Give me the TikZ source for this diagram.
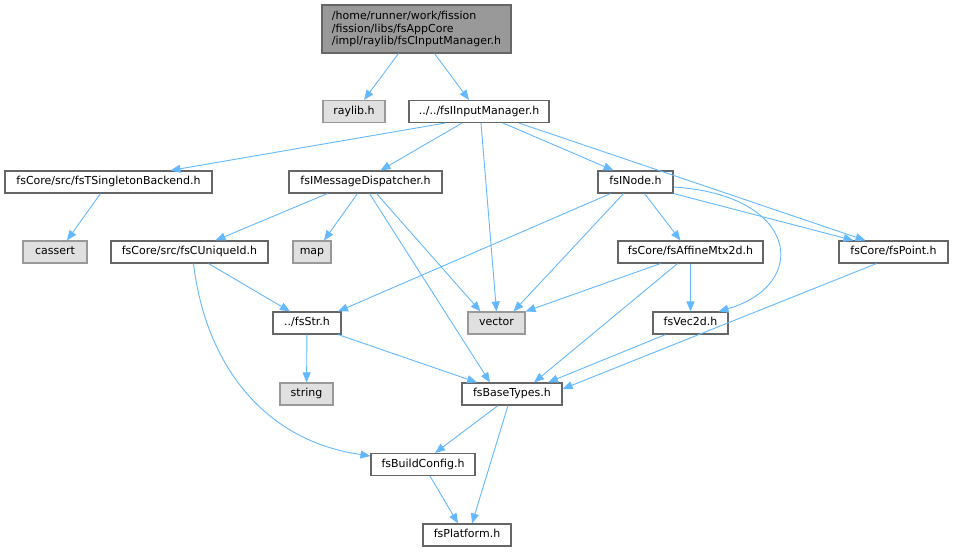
\documentclass[tikz,border=0pt]{standalone}
\usepackage{fontspec}
\setmainfont{DejaVu Sans}
\usepackage{tikz}
\usetikzlibrary{arrows.meta,calc}

\definecolor{edgeblue}{HTML}{63B8FF}
\definecolor{boxline}{HTML}{666666}
\definecolor{sysfill}{HTML}{E0E0E0}
\definecolor{sysline}{HTML}{999999}
\definecolor{rootfill}{HTML}{999999}

\tikzset{
  hdr/.style={draw=boxline, fill=white, line width=1.1pt, minimum height=22pt,
    inner sep=0pt, text height=8pt, text depth=2.5pt, font=\fontsize{11}{12.5}\selectfont},
  syshdr/.style={hdr, draw=sysline, fill=sysfill},
  rootfile/.style={hdr, fill=rootfill, minimum height=48pt, align=left,
    text height=, text depth=},
  dep/.style={draw=edgeblue, line width=0.9pt, -{Triangle[length=10pt,width=8pt]}}
}

\begin{document}
\begin{tikzpicture}[x=1pt, y=-1pt]
          \useasboundingbox (0,0) rectangle (953,552);

          \node[rootfile, minimum width=189pt] (root) at (416.5,29) {/home/runner/work/fission\\/fission/libs/fsAppCore\\/impl/raylib/fsCInputManager.h};
          \node[syshdr, minimum width=62pt] (raylib) at (354,111.5) {raylib.h};
          \node[hdr, minimum width=140pt] (iim) at (479,111.5) {../../fsIInputManager.h};
          \node[hdr, minimum width=207pt] (single) at (108.5,182) {fsCore/src/fsTSingletonBackend.h};
          \node[hdr, minimum width=153pt] (disp) at (365.5,182) {fsIMessageDispatcher.h};
          \node[hdr, minimum width=75pt] (inode) at (635.5,182) {fsINode.h};
          \node[syshdr, minimum width=64pt] (cassert) at (55,252) {cassert};
          \node[hdr, minimum width=157pt] (uid) at (189.5,252) {fsCore/src/fsCUniqueId.h};
          \node[syshdr, minimum width=38pt] (map) at (312,252) {map};
          \node[hdr, minimum width=145pt] (affine) at (690.5,252) {fsCore/fsAffineMtx2d.h};
          \node[hdr, minimum width=109pt] (point) at (893.5,252) {fsCore/fsPoint.h};
          \node[hdr, minimum width=68pt] (str) at (307,323) {../fsStr.h};
          \node[syshdr, minimum width=57pt] (vector) at (496.5,323) {vector};
          \node[hdr, minimum width=75pt] (vecb) at (690.5,323) {fsVec2d.h};
          \node[syshdr, minimum width=53pt] (string) at (306.5,394) {string};
          \node[hdr, minimum width=100pt] (base) at (512,394) {fsBaseTypes.h};
          \node[hdr, minimum width=104pt] (build) at (423,464.5) {fsBuildConfig.h};
          \node[hdr, minimum width=88pt] (platform) at (467,535) {fsPlatform.h};

          \draw[dep] ([xshift=-18pt]root.south) -- ([xshift=10pt]raylib.north);
          \draw[dep] ([xshift=18pt]root.south) -- ([xshift=-10pt]iim.north);

          \draw[dep] ([xshift=-34pt]iim.south) -- ([xshift=62pt]single.north);
          \draw[dep] ([xshift=-17pt]iim.south) -- ([xshift=15pt]disp.north);
          \draw[dep] ([xshift=2pt]iim.south) -- ([xshift=0pt]vector.north);
          \draw[dep] ([xshift=24pt]iim.south) -- ([xshift=-22pt]inode.north);
          \draw[dep] ([xshift=40pt]iim.south) -- ([xshift=-28pt]point.north);

          \draw[dep] ([xshift=-8pt]single.south) -- ([xshift=12pt]cassert.north);

          \draw[dep] ([xshift=-38pt]disp.south) -- ([xshift=26pt]uid.north);
          \draw[dep] ([xshift=-8pt]disp.south) -- ([xshift=12pt]map.north);
          \draw[dep] ([xshift=11pt]disp.south) -- ([xshift=-16pt]vector.north);
          \draw[dep] ([xshift=4pt]disp.south) -- ([xshift=-22pt]base.north);

          \draw[dep] ([xshift=-25pt]inode.south) -- ([xshift=31pt]str.north);
          \draw[dep] ([xshift=-12pt]inode.south) -- ([xshift=17pt]vector.north);
          \draw[dep] ([xshift=9pt]inode.south) -- ([xshift=-10pt]affine.north);
          \draw[dep] (inode.south east) -- ([xshift=-40pt]point.north);
          \draw[dep] ([yshift=-5pt]inode.east) .. controls (800,195) and (810,285) .. ([xshift=28pt]vecb.north);

          \draw[dep] ([xshift=19pt]uid.south) -- ([xshift=-17pt]str.north);
          \draw[dep] ([xshift=4pt]uid.south) .. controls (205,360) and (260,440) .. ([yshift=-3pt]build.north west);

          \draw[dep] ([xshift=-30pt]affine.south) -- (vector.north east);
          \draw[dep] ([xshift=-13pt]affine.south) -- ([xshift=22pt]base.north);
          \draw[dep] (affine) -- (vecb);

          \draw[dep] ([xshift=-17pt]point.south) -- ([yshift=5pt]base.east);
          \draw[dep] ([xshift=-25pt]vecb.south) -- ([xshift=36pt]base.north);

          \draw[dep] (str) -- (string);
          \draw[dep] ([xshift=31pt]str.south) -- ([xshift=-35pt]base.north);

          \draw[dep] ([xshift=-14pt]base.south) -- ([xshift=12pt]build.north);
          \draw[dep] ([xshift=-4pt]base.south) -- ([xshift=5pt]platform.north);
          \draw[dep] ([xshift=7pt]build.south) -- ([xshift=-9pt]platform.north);
        \end{tikzpicture}
\end{document}
